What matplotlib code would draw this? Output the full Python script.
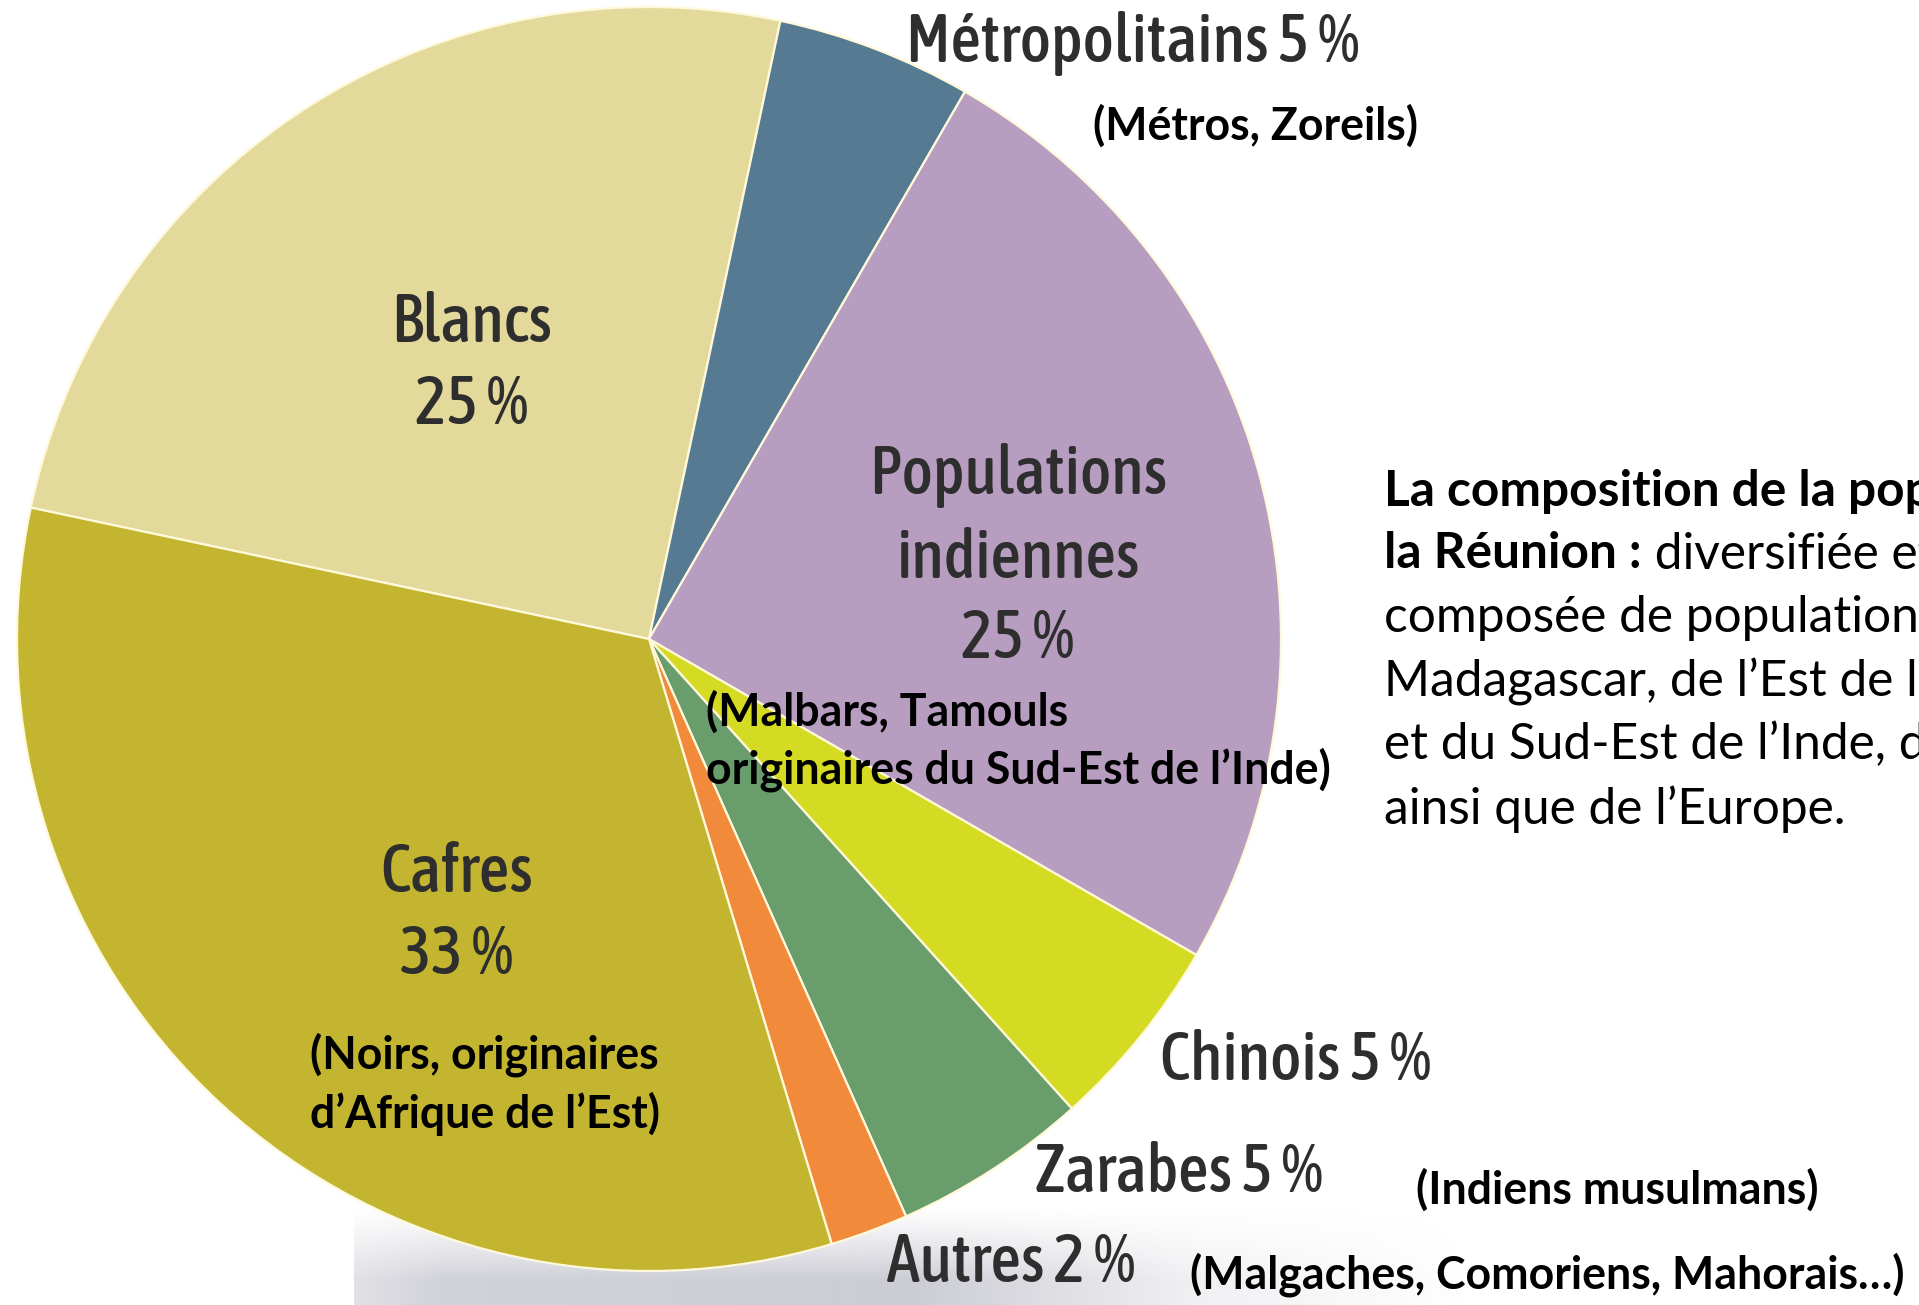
import numpy as np
import matplotlib.pyplot as plt
from matplotlib import font_manager

# data
categories = ['Blancs', 'Métropolitains', 'Populations\nindiennes', 'Chinois', 'Zarabes', 'Autres', 'Cafres']
values = [25, 5, 25, 5, 5, 2, 33]
colors = ['#E3D99A', '#557A92', '#B79DC0', '#D5DB22', '#6A9D6C', '#F18A3A', '#C3B530']
notes = ['', '(Métros, Zoreils)', '(Malbars, Tamouls\noriginaires du Sud-Est de l’Inde)',
         '', '(Indiens musulmans)', '(Malgaches, Comoriens, Mahorais…)',
         '(Noirs, originaires\nd’Afrique de l’Est)']
inside = [True, False, True, False, False, False, True]

para_bold = ['La composition de la population de', 'la Réunion :']
para_rest = [' diversifiée et métissée,',
             'composée de populations originaires de',
             'Madagascar, de l’Est de l’Afrique,',
             'et du Sud-Est de l’Inde, de Chine',
             'ainsi que de l’Europe.']

W, H = 1919, 1305

# placement in image pixels (x, [line y...]) measured from top-left
label_pos = [(472, [324, 406]), (906, [43]), (1018, [475, 559, 639]), (1160, [1062]),
             (1035, [1173]), (887, [1263]), (457, [873, 955])]
note_pos = [None, (1093, [126]), (706, [712, 770]), None, (1416, [1190]), (1190, [1275]),
            (310, [1055, 1114])]
para_x = 1384
para_y = [492, 554, 618, 682, 745, 809]

STRETCH = {'ultra-condensed': 100, 'extra-condensed': 200, 'condensed': 300,
           'semi-condensed': 400, 'normal': 500}
WEIGHT = {'ultralight': 100, 'light': 200, 'normal': 400, 'regular': 400, 'book': 400,
          'medium': 500, 'roman': 400, 'semibold': 600, 'demibold': 600, 'demi': 600,
          'bold': 700, 'heavy': 800, 'extra bold': 800, 'black': 900}


def img(x, y):
    return x, H - y


def narrow_font(weight, stretch, fallback):
    best, best_score = None, None
    for f in font_manager.fontManager.ttflist:
        n = f.name
        if any(k in n for k in ('Mono', 'Serif', 'CJK', 'Math', 'Symbol', 'STIX', 'cm', 'DejaVu')):
            continue
        if f.style != 'normal':
            continue
        st = f.stretch if isinstance(f.stretch, int) else STRETCH.get(f.stretch, 500)
        if 'Narrow' in n or 'Condensed' in n:
            st = min(st, 300)
        if st >= 500:
            continue
        w = f.weight if isinstance(f.weight, int) else WEIGHT.get(f.weight, 400)
        score = abs(w - weight) + abs(st - stretch) * 0.5
        if best_score is None or score < best_score:
            best, best_score = f.fname, score
    if best:
        return font_manager.FontProperties(fname=best)
    return font_manager.FontProperties(family=fallback, weight='bold' if weight >= 600 else 'normal')


# condensed face for the chart labels, Calibri-like face for the black notes
fp_label = narrow_font(500, 300, 'Liberation Sans')
fp_note = font_manager.FontProperties(family=['Lato', 'Liberation Sans'], weight='bold')
fp_reg = font_manager.FontProperties(family=['Lato', 'Liberation Sans'], weight='normal')

fig = plt.figure(figsize=(W / 100, H / 100), dpi=100)
ax = fig.add_axes([0, 0, 1, 1])
r = fig.canvas.get_renderer()


def fit(s, fp, target_w, max_size):
    t = ax.text(0, 0, s, fontproperties=fp, fontsize=100)
    w = t.get_window_extent(r).width
    t.remove()
    return min(max_size, 100 * target_w / w)


# grey shadow strip at the bottom of the scan
ys = np.linspace(0, 1, 80)
xs = np.linspace(0, 1, 400)
vert = np.clip(ys / 0.75, 0, 1) ** 1.2
horiz = np.interp(xs, [0, 0.08, 0.5, 0.75, 1], [0.6, 0.9, 1, 0.3, 0])
rgba = np.zeros((80, 400, 4))
rgba[..., :3] = (0.6, 0.6, 0.67)
rgba[..., 3] = np.outer(vert, horiz) * 0.5
ax.imshow(rgba, extent=(354, 1470, 0, 100), origin='upper', zorder=0,
          aspect='auto', interpolation='bilinear')

ax.pie(values, colors=colors, startangle=168, counterclock=False,
       center=img(649, 639), radius=632,
       wedgeprops=dict(edgecolor='#FFF9DC', linewidth=1.6))
ax.set_xlim(0, W)
ax.set_ylim(0, H)
ax.axis('off')

size_label = fit('Métropolitains 5 %', fp_label, 477, 48)
size_note = fit('(Métros, Zoreils)', fp_note, 325, 40)
size_para = fit('ainsi que de l’Europe.', fp_reg, 462, 40)

for name, v, ins, (x, ys_) in zip(categories, values, inside, label_pos):
    lines = (name + f'\n{v} %').split('\n') if ins else [f'{name} {v} %']
    for line, y in zip(lines, ys_):
        ax.text(*img(x, y), line, ha='center' if ins else 'left', va='center',
                fontproperties=fp_label, fontsize=size_label, color='#2E2E2E')

for note, pos in zip(notes, note_pos):
    if note:
        x, ys_ = pos
        for line, y in zip(note.split('\n'), ys_):
            ax.text(*img(x, y), line, ha='left', va='center', fontproperties=fp_note,
                    fontsize=size_note, color='black')

# paragraph on the right, runs off the edge
ax.text(*img(para_x, para_y[0]), para_bold[0], ha='left', va='center',
        fontproperties=fp_note, fontsize=size_para, color='black')
b2 = ax.text(*img(para_x, para_y[1]), para_bold[1], ha='left', va='center',
             fontproperties=fp_note, fontsize=size_para, color='black')
bb = b2.get_window_extent(r)
ax.text(bb.x1, img(0, para_y[1])[1], para_rest[0], ha='left', va='center',
        fontproperties=fp_reg, fontsize=size_para, color='black')
for txt, y in zip(para_rest[1:], para_y[2:]):
    ax.text(*img(para_x, y), txt, ha='left', va='center',
            fontproperties=fp_reg, fontsize=size_para, color='black')

fig.savefig('out.png', dpi=100)
